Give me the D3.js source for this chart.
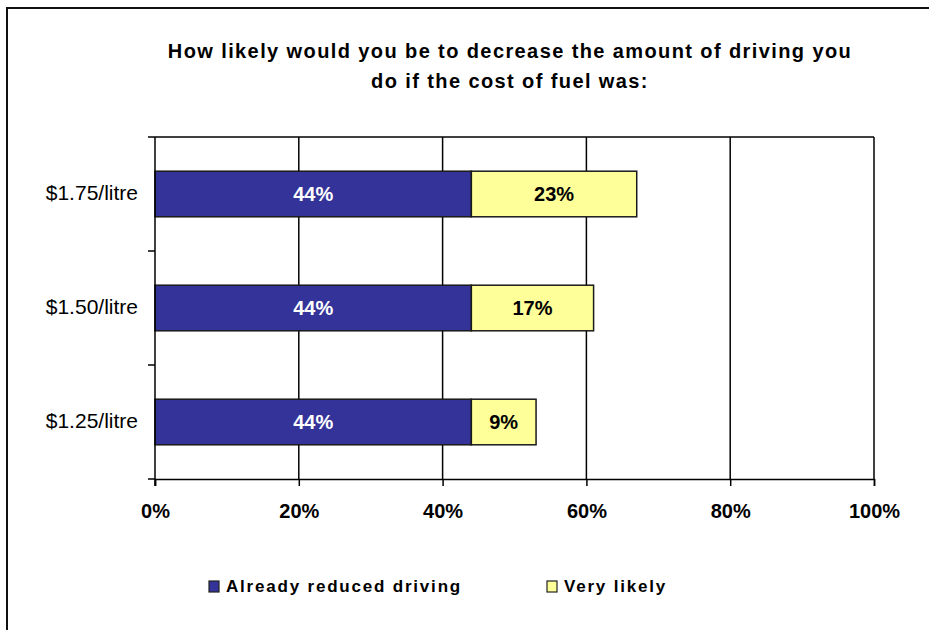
<!DOCTYPE html>
<html>
<head>
<meta charset="utf-8">
<script src="https://cdn.jsdelivr.net/npm/d3@7"></script>
<style>
  body { margin: 0; background: #fff; }
  svg { display: block; font-family: Arial, "Liberation Sans", sans-serif; }
</style>
</head>
<body>
<svg width="929" height="630"></svg>
<script>
const titleLines = ['How likely would you be to decrease the amount of driving you', 'do if the cost of fuel was:'];
const categories = ['$1.75/litre', '$1.50/litre', '$1.25/litre'];
const seriesNames = ['Already reduced driving', 'Very likely'];
const alreadyReduced = [44, 44, 44];
const veryLikely = [23, 17, 9];
const xTicks = [0, 20, 40, 60, 80, 100];
const colors = ['#333399', '#FFFF99'];
const labelColors = ['#fff', '#000'];

const margin = { left: 155, right: 55, top: 137, bottom: 151 };

const svg = d3.select('svg');
const width = +svg.attr('width');
const height = +svg.attr('height');
const innerWidth = width - margin.left - margin.right;
const innerHeight = height - margin.top - margin.bottom;

// outer chart frame: only the left and top edges fall inside the picture
svg.append('path')
    .attr('d', `M7,${height} V8 H${width}`)
    .attr('fill', 'none')
    .attr('stroke', '#111')
    .attr('stroke-width', 2);

svg.append('g').selectAll('text')
    .data(titleLines)
    .join('text')
    .attr('x', 510)
    .attr('y', (d, i) => 58 + i * 30)
    .attr('text-anchor', 'middle')
    .attr('font-size', 20)
    .attr('font-weight', 'bold')
    .attr('letter-spacing', 1.4)
    .text(d => d);

const g = svg.append('g')
    .attr('transform', `translate(${margin.left},${margin.top})`);

const xScale = d3.scaleLinear().domain([0, 100]).range([0, innerWidth]);
const yScale = d3.scaleBand().domain(categories).range([0, innerHeight]).padding(0);
const barH = yScale.bandwidth() * 0.4;

// vertical gridlines + top border
g.append('g').selectAll('line')
    .data(xTicks.slice(1))
    .join('line')
    .attr('x1', d => xScale(d)).attr('x2', d => xScale(d))
    .attr('y1', 0).attr('y2', innerHeight)
    .attr('stroke', '#000')
    .attr('stroke-width', 1.5);
g.append('line')
    .attr('x1', 0).attr('x2', innerWidth)
    .attr('y1', 0).attr('y2', 0)
    .attr('stroke', '#000')
    .attr('stroke-width', 1.5);

// stacked bars
const stackData = categories.map((c, i) => ({ cat: c, vals: [alreadyReduced[i], veryLikely[i]] }));
stackData.forEach(row => {
    let x0 = 0;
    row.vals.forEach((v, s) => {
        const yTop = yScale(row.cat) + (yScale.bandwidth() - barH) / 2;
        g.append('rect')
            .attr('x', xScale(x0))
            .attr('y', yTop)
            .attr('width', xScale(x0 + v) - xScale(x0))
            .attr('height', barH)
            .attr('fill', colors[s])
            .attr('stroke', '#1a1a1a')
            .attr('stroke-width', 1.5);
        g.append('text')
            .attr('x', xScale(x0 + v / 2))
            .attr('y', yTop + barH / 2 + 6.5)
            .attr('text-anchor', 'middle')
            .attr('font-size', 20)
            .attr('font-weight', 'bold')
            .attr('fill', labelColors[s])
            .text(v + '%');
        x0 += v;
    });
});

// axes
const xAxis = d3.axisBottom(xScale)
    .tickValues(xTicks)
    .tickSize(7)
    .tickPadding(18)
    .tickFormat(d => d + '%');
const xAxisG = g.append('g')
    .attr('transform', `translate(0,${innerHeight})`)
    .call(xAxis);
xAxisG.select('.domain').attr('stroke', '#000').attr('stroke-width', 1.5);
xAxisG.selectAll('.tick line').attr('stroke', '#000').attr('stroke-width', 1.5);
xAxisG.selectAll('.tick text')
    .attr('font-size', 20)
    .attr('font-weight', 'bold')
    .attr('font-family', 'Arial, "Liberation Sans", sans-serif')
    .attr('fill', '#000');

const yAxisG = g.append('g');
yAxisG.append('line')
    .attr('x1', 0).attr('x2', 0)
    .attr('y1', 0).attr('y2', innerHeight + 7)
    .attr('stroke', '#000').attr('stroke-width', 1.5);
const bounds = categories.map(c => yScale(c)).concat([innerHeight]);
yAxisG.selectAll('.ytick')
    .data(bounds)
    .join('line')
    .attr('class', 'ytick')
    .attr('x1', -7).attr('x2', 0)
    .attr('y1', d => d).attr('y2', d => d)
    .attr('stroke', '#000').attr('stroke-width', 1.5);
yAxisG.selectAll('.ylabel')
    .data(categories)
    .join('text')
    .attr('class', 'ylabel')
    .attr('x', -17)
    .attr('y', d => yScale(d) + yScale.bandwidth() / 2 + 5.5)
    .attr('text-anchor', 'end')
    .attr('font-size', 21)
    .text(d => d);

// legend
const legendX = [209, 547];
const legend = svg.append('g');
seriesNames.forEach((name, i) => {
    legend.append('rect')
        .attr('x', legendX[i]).attr('y', 581)
        .attr('width', 10).attr('height', 11)
        .attr('fill', colors[i])
        .attr('stroke', '#222')
        .attr('stroke-width', 1.2);
    legend.append('text')
        .attr('x', legendX[i] + 17)
        .attr('y', 592)
        .attr('font-size', 17)
        .attr('font-weight', 'bold')
        .attr('letter-spacing', 1.8)
        .text(name);
});
</script>
</body>
</html>
